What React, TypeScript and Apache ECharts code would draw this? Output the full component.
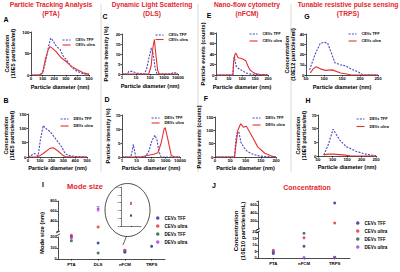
import React, { useEffect, useRef } from "react";
import * as echarts from "echarts";

const FONT = "'Liberation Sans', Arial, sans-serif";
const BLUE = "#4646c4";
const RED = "#e63030";
const TITLE_RED = "#e3262b";

// ---- size distributions: [diameter (nm), value]
const ptaCevsTff = [[0,0],[75,0],[100,5],[125,30],[150,65],[170,86],[190,80],[210,70],[230,64],[250,60],[275,45],[300,37],[350,18],[400,8],[450,3],[500,1]];
const ptaCevsUltra = [[0,0],[75,0],[100,5],[125,38],[150,60],[165,66],[185,62],[220,53],[260,40],[300,32],[350,20],[400,12],[450,5],[500,2]];
const ptaDevsTff = [[0,0],[29,6],[57,12],[86,4],[105,60],[129,110],[150,100],[186,89],[243,59],[286,35],[314,12],[357,4],[420,1],[500,0]];
const ptaDevsUltra = [[0,0],[71,0],[100,4],[129,12],[186,30],[214,32],[257,20],[286,9],[314,2],[386,0],[500,0]];

const dlsCevsTff = [[1,0],[2.5,0],[3,1.2],[5,1.4],[7,1],[12,0.4],[40,0],[60,3],[90,9],[125,13],[170,10],[230,3],[320,0],[3000,0],[5000,0.8],[7000,0.5],[10000,0]];
const dlsCevsUltra = [[1,0],[80,0],[120,4],[160,13],[205,17.2],[260,10],[350,2],[450,0],[10000,0]];
const dlsDevsTff = [[1,0],[4,0],[5,2],[6,4.5],[7.5,2],[9,0],[40,0],[70,2],[120,6],[190,7.8],[260,6],[350,2],[500,0],[10000,0]];
const dlsDevsUltra = [[1,0],[18,0],[100,0.8],[150,1],[300,1.5],[500,5],[800,10],[950,10.5],[1500,6],[2500,0.5],[4000,0],[10000,0]];

const nfcmCevsTff = [[0,0],[65,0],[68,30],[71,37],[74,25],[78,16],[85,13],[95,10],[105,7],[115,4],[130,2],[150,1],[200,0]];
const nfcmCevsUltra = [[0,0],[65,0],[68,25],[72,38],[76,42],[80,38],[85,33],[95,32],[105,30],[115,27],[122,18],[130,10],[140,6],[150,3],[170,1],[200,0]];
const nfcmDevsTff = [[0,0],[64,0],[68,60],[72,90],[78,95],[85,55],[95,35],[105,22],[120,12],[140,5],[160,2],[200,0]];
const nfcmDevsUltra = [[0,0],[64,0],[68,40],[75,100],[84,125],[93,112],[103,115],[125,70],[140,38],[163,14],[185,4],[200,0]];

const trpsCevsTff = [[60,5],[75,20],[90,31],[100,32],[110,31],[120,22],[130,12],[145,10],[160,9],[175,6],[195,3],[210,0],[250,0]];
const trpsCevsUltra = [[62,2],[70,6],[78,8],[90,6],[104,4.5],[123,5],[146,2],[174,0.3],[200,0],[250,0]];
const trpsDevsTff = [[70,0.4],[85,4],[102,9.8],[125,5.8],[148,3.4],[184,1.6],[218,0.6],[250,0.1]];
const trpsDevsUltra = [[70,0.4],[85,0.7],[102,0.7],[137,0.4],[160,0.1],[184,0],[250,0]];

// ---- mode size (nm)
const modeMethods = ["PTA", "DLS", "nFCM", "TRPS"];
const modeCevsTff = [205, 145, 63, 115];
const modeCevsUltra = [215, 280, 80, null];
const modeDevsTff = [165, 55, 64, null];
const modeDevsUltra = [190, 640, 78, null];
const modeDevsUltraDlsErr = [600, 690];

// ---- concentration (10E10 particles/mL)
const concMethods = ["PTA", "nFCM", "TRPS"];
const concCevsTff = [3.5, 9, 650];
const concCevsUltra = [6, 15.5, 150];
const concDevsTff = [4.5, 19, 0.5];
const concDevsUltra = [5, 0.3, 0.4];

const groupNames = ["CEVs TFF", "CEVs ultra", "DEVs TFF", "DEVs ultra"];
const groupColors = ["#26269c", "#e0302c", "#1d5e3c", "#a040d0"];

const axisLine = { show: true, lineStyle: { color: "#000", width: 0.7 } };
const axisTick = { show: true, length: 1.5, lineStyle: { color: "#000", width: 0.7 } };
const tickLabel = { fontSize: 4.3, fontWeight: "bold", color: "#000", fontFamily: FONT, margin: 1.5 };
const nameStyle = { fontSize: 5.6, fontWeight: "bold", color: "#000", fontFamily: FONT, lineHeight: 6 };

type Panel = {
  box: number[];
  log?: boolean;
  xMin?: number; xMax?: number; xInt?: number;
  yMax: number; yInt: number;
  yName: string; yGap: number; xGap: number;
  lines: [string, number[][], boolean][];
  legend: number[];
};

const panels: Panel[] = [
  { box: [31, 32, 58, 43], xMin: 0, xMax: 500, xInt: 100, yMax: 100, yInt: 50, yName: "Concentration\n(10E5 particles/ml)", yGap: 15, xGap: 9,
    lines: [["CEVs TFF", ptaCevsTff, true], ["CEVs ultra", ptaCevsUltra, false]], legend: [62, 38, 1] },
  { box: [122, 34, 56, 40], log: true, yMax: 20, yInt: 5, yName: "Particle intensity (%)", yGap: 13, xGap: 9,
    lines: [["CEVs TFF", dlsCevsTff, true], ["CEVs ultra", dlsCevsUltra, false]], legend: [155, 33, 0.5] },
  { box: [216, 33, 52, 42], xMin: 0, xMax: 200, xInt: 50, yMax: 80, yInt: 20, yName: "Particle events (counts)", yGap: 9, xGap: 9,
    lines: [["CEVs TFF", nfcmCevsTff, true], ["CEVs ultra", nfcmCevsUltra, false]], legend: [249, 32, 3] },
  { box: [306, 34, 72, 41], xMin: 50, xMax: 250, xInt: 50, yMax: 40, yInt: 10, yName: "Concentration\n(10E12 particles/ml)", yGap: 8, xGap: 9,
    lines: [["CEVs TFF", trpsCevsTff, true], ["CEVs ultra", trpsCevsUltra, false]], legend: [348, 32, 3] },
  { box: [28, 114, 59, 43], xMin: 0, xMax: 500, xInt: 100, yMax: 150, yInt: 50, yName: "Concentration\n(10E5 particles/ml)", yGap: 13, xGap: 8,
    lines: [["DEVs TFF", ptaDevsTff, true], ["DEVs ultra", ptaDevsUltra, false]], legend: [60, 117, 3] },
  { box: [122, 115, 58, 42], log: true, yMax: 15, yInt: 5, yName: "Particle intensity (%)", yGap: 11, xGap: 8,
    lines: [["DEVs TFF", dlsDevsTff, true], ["DEVs ultra", dlsDevsUltra, false]], legend: [151, 116, 1] },
  { box: [215, 117, 61, 40], xMin: 0, xMax: 200, xInt: 50, yMax: 150, yInt: 50, yName: "Particle events (counts)", yGap: 9, xGap: 8,
    lines: [["DEVs TFF", nfcmDevsTff, true], ["DEVs ultra", nfcmDevsUltra, false]], legend: [252, 116, 3] },
  { box: [318, 115, 58, 41], xMin: 50, xMax: 250, xInt: 50, yMax: 15, yInt: 5, yName: "Concentration\n(10E9 particles/ml)", yGap: 11, xGap: 8,
    lines: [["DEVs TFF", trpsDevsTff, true], ["DEVs ultra", trpsDevsUltra, false]], legend: [356, 117, 3.5] },
];

const MODE_BREAK = 250;
const CONC_BREAK = 50;

function buildOption() {
  const grid: any[] = [];
  const xAxis: any[] = [];
  const yAxis: any[] = [];
  const series: any[] = [];
  const legend: any[] = [];

  panels.forEach((p, i) => {
    const [left, top, width, height] = p.box;
    grid.push({ left, top, width, height, outerBoundsMode: "none", containLabel: false });
    const xa: any = {
      gridIndex: i,
      name: "Particle diameter (nm)", nameLocation: "middle", nameGap: p.xGap, nameTextStyle: nameStyle,
      axisLine, axisTick, splitLine: { show: false },
      axisLabel: { ...tickLabel, formatter: (v: number) => String(Math.round(v)) },
    };
    if (p.log) Object.assign(xa, { type: "log", logBase: 10, min: 1, max: 10000 });
    else Object.assign(xa, { type: "value", min: p.xMin, max: p.xMax, interval: p.xInt });
    xAxis.push(xa);
    yAxis.push({
      gridIndex: i, type: "value", min: 0, max: p.yMax, interval: p.yInt,
      name: p.yName, nameLocation: "middle", nameGap: p.yGap, nameTextStyle: nameStyle,
      axisLine, axisTick, axisLabel: tickLabel, splitLine: { show: false },
    });
    p.lines.forEach(([name, data, dashed]) => {
      series.push({
        type: "line", name, data, xAxisIndex: i, yAxisIndex: i,
        symbol: "none", showSymbol: false, silent: true,
        lineStyle: { color: dashed ? BLUE : RED, width: 1.1, type: dashed ? [2, 1.3] : "solid" },
        itemStyle: { color: dashed ? BLUE : RED },
      });
    });
    legend.push({
      data: p.lines.map((l) => l[0]), left: p.legend[0], top: p.legend[1], orient: "vertical",
      itemWidth: 8, itemHeight: 3, itemGap: p.legend[2], padding: 0, selectedMode: false,
      itemStyle: { opacity: 0 }, lineStyle: { width: 1.1 },
      textStyle: { fontSize: 3.8, fontWeight: "bold", color: "#000", fontFamily: FONT },
    });
  });

  // ---- I : mode size (broken axis -> two grids) + inset ; J : concentration
  const gIU = grid.length;
  grid.push({ left: 58, top: 201, width: 107, height: 30, outerBoundsMode: "none" });
  const gIL = grid.length;
  grid.push({ left: 58, top: 237, width: 107, height: 22, outerBoundsMode: "none" });
  const gIn = grid.length;
  grid.push({ left: 121, top: 187, width: 20, height: 39, outerBoundsMode: "none" });
  const gJU = grid.length;
  grid.push({ left: 258, top: 201, width: 92, height: 28, outerBoundsMode: "none" });
  const gJL = grid.length;
  grid.push({ left: 258, top: 232, width: 92, height: 26, outerBoundsMode: "none" });

  const catX = (gi: number, cats: string[], show: boolean) => ({
    gridIndex: gi, type: "category", data: cats, boundaryGap: true, show,
    axisLine, axisTick: { ...axisTick, alignWithLabel: true },
    axisLabel: { ...tickLabel, margin: 3 }, splitLine: { show: false },
  });
  xAxis.push(catX(gIU, modeMethods, false));
  xAxis.push(catX(gIL, modeMethods, true));
  xAxis.push({ ...catX(gIn, ["nFCM"], true), axisLabel: { show: false }, axisTick: { ...axisTick, length: 1, alignWithLabel: true }, axisLine: { show: true, lineStyle: { color: "#000", width: 0.5 } } });
  xAxis.push(catX(gJU, concMethods, false));
  xAxis.push(catX(gJL, concMethods, true));

  const valY = (gi: number, min: number, max: number, interval: number, hide: number[]) => ({
    gridIndex: gi, type: "value", min, max, interval,
    axisLine, axisTick, splitLine: { show: false },
    axisLabel: { ...tickLabel, fontSize: 3.8, formatter: (v: number) => (hide.indexOf(v) >= 0 ? "" : String(v)) },
  });
  yAxis.push(valY(gIU, 200, 800, 200, [200]));
  yAxis.push(valY(gIL, 0, 200, 100, []));
  yAxis.push({
    ...valY(gIn, 50, 100, 10, []),
    axisLine: { show: true, lineStyle: { color: "#000", width: 0.5 } },
    axisTick: { show: true, length: 1, lineStyle: { color: "#000", width: 0.5 } },
    axisLabel: { fontSize: 2.3, color: "#000", fontFamily: FONT, margin: 1 },
  });
  yAxis.push(valY(gJU, 0, 700, 200, [0, 700]));
  yAxis.push(valY(gJL, 0, 20, 5, []));

  const modeSets = [modeCevsTff, modeCevsUltra, modeDevsTff, modeDevsUltra];
  const concSets = [concCevsTff, concCevsUltra, concDevsTff, concDevsUltra];
  const scatterBase = (g: number, xi: number, data: any[]) => ({
    type: "scatter", name: "pt:" + groupNames[g], xAxisIndex: xi, yAxisIndex: xi, data,
    symbol: "circle", symbolSize: 3, clip: false, silent: true,
    itemStyle: { color: groupColors[g] },
  });
  modeSets.forEach((vals, g) => {
    series.push(scatterBase(g, gIU, vals.map((v) => (v != null && v >= MODE_BREAK ? v : "-"))));
    series.push(scatterBase(g, gIL, vals.map((v) => (v != null && v < MODE_BREAK ? v : "-"))));
    series.push({ ...scatterBase(g, gIn, [vals[modeMethods.indexOf("nFCM")]]), symbolSize: 2.2 });
  });
  concSets.forEach((vals, g) => {
    series.push(scatterBase(g, gJU, vals.map((v) => (v >= CONC_BREAK ? v : "-"))));
    series.push(scatterBase(g, gJL, vals.map((v) => (v < CONC_BREAK ? v : "-"))));
  });
  series.push({
    type: "custom", xAxisIndex: gIU, yAxisIndex: gIU, silent: true, clip: false,
    data: [[modeMethods.indexOf("DLS"), modeDevsUltraDlsErr[0], modeDevsUltraDlsErr[1]]],
    renderItem: (_p: any, api: any) => {
      const a = api.coord([api.value(0), api.value(1)]);
      const b = api.coord([api.value(0), api.value(2)]);
      const st = { stroke: groupColors[3], lineWidth: 0.6 };
      return {
        type: "group",
        children: [
          { type: "line", shape: { x1: a[0], y1: a[1], x2: b[0], y2: b[1] }, style: st },
          { type: "line", shape: { x1: a[0] - 1.5, y1: a[1], x2: a[0] + 1.5, y2: a[1] }, style: st },
          { type: "line", shape: { x1: b[0] - 1.5, y1: b[1], x2: b[0] + 1.5, y2: b[1] }, style: st },
        ],
      };
    },
  });

  const ptNames = groupNames.map((n) => "pt:" + n);
  const scLegend = (left: number, top: number) => ({
    data: ptNames, left, top, orient: "vertical", icon: "circle",
    itemWidth: 3.5, itemHeight: 3.5, itemGap: 3, padding: 0, selectedMode: false,
    formatter: (n: string) => n.replace("pt:", ""),
    textStyle: { fontSize: 4.5, fontWeight: "bold", color: "#000", fontFamily: FONT },
  });
  legend.push(scLegend(156, 215.5));
  legend.push(scLegend(356, 220.5));

  const txt = (x: number, y: number, text: string, size: number, color = "#000", extra: any = {}) => ({
    type: "text", x, y, silent: true, ...extra,
    style: { text, fill: color, fontSize: size, fontWeight: "bold", fontFamily: FONT, align: "center", verticalAlign: "middle", lineHeight: size * 1.2, ...(extra.style || {}) },
  });

  const graphic: any[] = [
    ...[101, 198, 291].map((x) => ({ type: "line", silent: true, shape: { x1: x, y1: 4, x2: x, y2: 172 }, style: { stroke: "#c8c8c8", lineWidth: 0.7 } })),
    txt(51, 9, "Particle Tracking Analysis\n(PTA)", 6.7, TITLE_RED),
    txt(152, 9, "Dynamic Light Scattering\n(DLS)", 6.7, TITLE_RED),
    txt(247, 9, "Nano-flow cytometry\n(nFCM)", 6.7, TITLE_RED),
    txt(348, 9, "Tunable resistive pulse sensing\n(TRPS)", 6.7, TITLE_RED),
    txt(6, 19, "A", 7), txt(105, 16, "C", 7), txt(209, 15, "E", 7), txt(307, 16, "G", 7),
    txt(6, 100, "B", 7), txt(107, 99, "D", 7), txt(206, 98, "F", 7), txt(308, 100, "H", 7),
    txt(43, 184, "I", 7), txt(214, 185, "J", 7),
    txt(85, 186, "Mode size", 7.5, TITLE_RED),
    txt(307, 187, "Concentration", 7, TITLE_RED),
    txt(42, 233, "Mode size (nm)", 5.8, "#000", { rotation: Math.PI / 2 }),
    txt(239.5, 231, "Concentration\n(10E10 particles/mL)", 6, "#000", { rotation: Math.PI / 2 }),
    { type: "ellipse", silent: true, shape: { cx: 127.5, cy: 210, rx: 22.5, ry: 26.5 }, style: { fill: "none", stroke: "#222", lineWidth: 0.8 } },
    { type: "line", silent: true, shape: { x1: 126.5, y1: 236, x2: 123, y2: 245 }, style: { stroke: "#222", lineWidth: 0.7 } },
    { type: "line", silent: true, shape: { x1: 56, y1: 233, x2: 60, y2: 231 }, style: { stroke: "#000", lineWidth: 0.7 } },
    { type: "line", silent: true, shape: { x1: 56, y1: 236, x2: 60, y2: 234 }, style: { stroke: "#000", lineWidth: 0.7 } },
    { type: "line", silent: true, shape: { x1: 256, y1: 230.5, x2: 260, y2: 228.5 }, style: { stroke: "#000", lineWidth: 0.7 } },
    { type: "line", silent: true, shape: { x1: 256, y1: 233, x2: 260, y2: 231 }, style: { stroke: "#000", lineWidth: 0.7 } },
  ];

  return {
    animation: false,
    backgroundColor: "#fff",
    textStyle: { fontFamily: FONT },
    grid, xAxis, yAxis, series, legend, graphic,
  };
}

export default function App() {
  const ref = useRef<HTMLDivElement>(null);
  useEffect(() => {
    document.body.style.margin = "0";
    const chart = echarts.init(ref.current!, undefined, { renderer: "svg" });
    chart.setOption(buildOption() as any);
    return () => chart.dispose();
  }, []);
  return <div ref={ref} style={{ position: "fixed", left: 0, top: 0, width: 400, height: 272 }} />;
}
